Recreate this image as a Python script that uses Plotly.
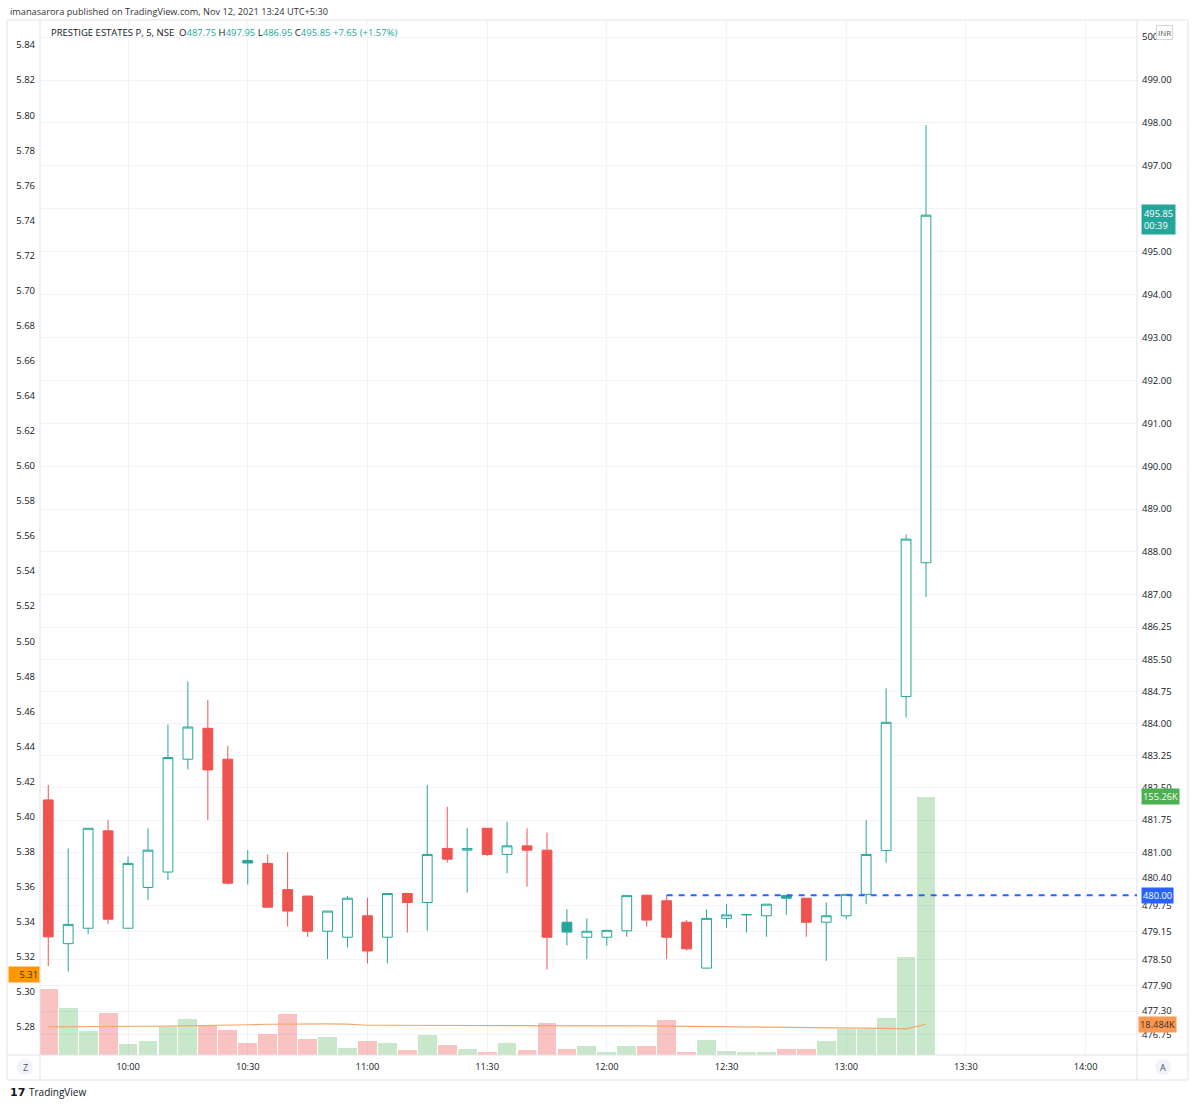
import plotly.graph_objects as go

DAY = "2021-11-12 "
times = ["09:40", "09:45", "09:50", "09:55", "10:00", "10:05", "10:10", "10:15", "10:20", "10:25",
         "10:30", "10:35", "10:40", "10:45", "10:50", "10:55", "11:00", "11:05", "11:10", "11:15",
         "11:20", "11:25", "11:30", "11:35", "11:40", "11:45", "11:50", "11:55", "12:00", "12:05",
         "12:10", "12:15", "12:20", "12:25", "12:30", "12:35", "12:40", "12:45", "12:50", "12:55",
         "13:00", "13:05", "13:10", "13:15", "13:20"]

opens = [482.22, 478.87, 479.23, 481.50, 479.23, 480.18, 480.54, 483.17, 483.89, 483.17,
         480.81, 480.74, 480.13, 479.98, 479.16, 479.02, 479.52, 479.02, 480.04, 479.83,
         481.09, 481.05, 481.56, 480.95, 481.15, 481.05, 479.37, 479.02, 479.02, 479.17,
         480.00, 479.87, 479.37, 478.30, 479.46, 479.54, 479.52, 479.99, 479.93, 479.37,
         479.52, 480.02, 481.04, 484.63, 487.75]
highs = [482.57, 481.09, 481.56, 481.75, 480.90, 481.56, 483.98, 484.98, 484.55, 483.48,
         481.05, 480.95, 481.00, 479.98, 479.63, 479.98, 479.94, 480.04, 480.04, 482.57,
         482.06, 481.56, 481.56, 481.71, 481.56, 481.46, 479.67, 479.46, 479.18, 479.99,
         480.00, 480.00, 479.42, 479.67, 479.79, 479.55, 479.79, 480.00, 479.93, 479.83,
         480.02, 481.75, 484.82, 488.41, 497.95]
lows = [478.35, 478.22, 479.09, 479.33, 479.23, 479.89, 480.35, 482.93, 481.75, 480.25,
        480.25, 479.72, 479.27, 479.03, 478.51, 478.78, 478.41, 478.41, 479.13, 479.17,
        480.76, 480.06, 480.91, 480.51, 480.20, 478.27, 478.83, 478.51, 478.82, 479.03,
        479.27, 478.51, 478.71, 478.30, 479.24, 479.13, 479.03, 479.54, 479.03, 478.47,
        479.44, 479.79, 480.76, 484.14, 486.95]
closes = [479.03, 479.32, 481.56, 479.44, 480.74, 481.05, 483.21, 483.92, 482.92, 480.28,
          480.75, 479.72, 479.63, 479.16, 479.63, 479.93, 478.70, 480.04, 479.83, 480.95,
          480.84, 481.09, 480.95, 481.15, 481.05, 479.02, 479.14, 479.16, 479.18, 479.99,
          479.42, 479.02, 478.75, 479.46, 479.54, 479.55, 479.79, 479.93, 479.37, 479.52,
          480.02, 480.95, 484.03, 488.30, 495.85]
volume_k = [39.7, 28.3, 14.4, 25.5, 6.6, 8.6, 17.0, 21.7, 17.9, 14.9,
            7.0, 12.6, 24.7, 9.6, 10.7, 4.0, 8.4, 7.2, 3.0, 12.0,
            5.8, 3.4, 2.0, 7.2, 3.0, 19.3, 3.8, 5.4, 2.0, 5.4,
            5.4, 20.9, 2.0, 9.0, 2.4, 2.0, 2.0, 3.6, 3.6, 8.2,
            15.5, 15.5, 22.3, 59.0, 155.26]
volume_ma_k = [16.9, 16.9, 17.0, 17.1, 17.2, 17.3, 17.4, 17.5, 17.6, 17.8,
               18.2, 18.5, 18.7, 18.7, 18.7, 18.6, 17.9, 17.9, 17.9, 17.9,
               17.8, 17.8, 17.8, 17.8, 17.8, 17.8, 17.7, 17.7, 17.6, 17.6,
               17.5, 17.4, 17.3, 17.1, 17.0, 16.9, 16.8, 16.7, 16.6, 16.5,
               16.4, 16.3, 16.0, 15.7, 18.484]

price_ticks = [476.75, 477.30, 477.90, 478.50, 479.15, 479.75, 480.40, 481.00, 481.75, 482.50,
               483.25, 484.00, 484.75, 485.50, 486.25, 487.00, 488.00, 489.00, 490.00, 491.00,
               492.00, 493.00, 494.00, 495.00, 496.00, 497.00, 498.00, 499.00, 500.00]
time_ticks = ["10:00", "10:30", "11:00", "11:30", "12:00", "12:30", "13:00", "13:30", "14:00"]
line_level = 480.00
left_last = 5.31

TEAL = "#26a69a"
RED = "#ef5350"
GRID = "#f0f3fa"
BORDER = "#e0e3eb"
TXT = "#131722"
FONT = "Open Sans, Liberation Sans, sans-serif"

x = [DAY + t + ":00" for t in times]
n = len(x)

idx_hollow, idx_red, idx_teal = [], [], []
for i in range(n):
    if closes[i] >= opens[i]:
        idx_hollow.append(i)
    elif i > 0 and closes[i] > closes[i - 1]:
        idx_teal.append(i)
    else:
        idx_red.append(i)


def sub(lst, idx):
    return [lst[i] for i in idx]


fig = go.Figure()

# volume (bottom layer)
vcol = ["rgba(76,175,80,0.3)" if closes[i] >= opens[i] else "rgba(239,83,80,0.35)" for i in range(n)]
fig.add_trace(go.Bar(x=x, y=volume_k, marker=dict(color=vcol, line=dict(width=0)),
                     width=283000, yaxis="y", hoverinfo="skip"))
fig.add_trace(go.Scatter(x=x, y=volume_ma_k, mode="lines", yaxis="y",
                         line=dict(color="#f7a66b", width=1.2), hoverinfo="skip"))


def candle(idx, fill, color):
    sty = dict(line=dict(color=color, width=1), fillcolor=fill)
    return go.Candlestick(x=sub(x, idx), open=sub(opens, idx), high=sub(highs, idx),
                          low=sub(lows, idx), close=sub(closes, idx), yaxis="y2",
                          increasing=sty, decreasing=sty, whiskerwidth=0, hoverinfo="skip")


fig.add_trace(candle(idx_hollow, "white", TEAL))
fig.add_trace(candle(idx_red, RED, RED))
fig.add_trace(candle(idx_teal, TEAL, TEAL))

# dummy for left axis
fig.add_trace(go.Scatter(x=[x[0]], y=[left_last], mode="markers", marker=dict(opacity=0),
                         yaxis="y3", hoverinfo="skip"))

L, R, T, B = 40, 1137, 20, 1055
W, H = 1200, 1106


def PX(px):
    return (px - L) / (R - L)


def PY(py):
    return (B - py) / (B - T)


xr = ["2021-11-12 09:37:56", "2021-11-12 14:12:53"]

fig.update_layout(
    width=W, height=H, margin=dict(l=L, r=W - R, t=T, b=H - B),
    paper_bgcolor="white", plot_bgcolor="white", showlegend=False,
    font=dict(family=FONT, size=9, color=TXT),
    bargap=0,
    xaxis=dict(type="date", range=xr, tickvals=[DAY + t + ":00" for t in time_ticks],
               ticktext=time_ticks, showgrid=True, gridcolor=GRID, gridwidth=1,
               rangeslider=dict(visible=False), zeroline=False, showline=False,
               ticks="", ticklabelstandoff=5, tickfont=dict(size=9.3, color=TXT)),
    yaxis=dict(range=[0, 622.8], visible=False, showgrid=False),
    yaxis2=dict(overlaying="y", side="right", range=[476.275, 500.40],
                tickvals=price_ticks, ticktext=["%.2f" % v for v in price_ticks],
                showgrid=True, gridcolor=GRID, zeroline=False, showline=False,
                ticks="", ticklabelstandoff=4, tickfont=dict(size=9.5, color=TXT)),
    yaxis3=dict(overlaying="y", side="left", range=[5.2640, 5.8543], tick0=5.28, dtick=0.02,
                tickformat=".2f", showgrid=False, zeroline=False, showline=False,
                ticks="", ticklabelstandoff=4, tickfont=dict(size=9.5, color=TXT)),
)

shapes = []
# frame
shapes.append(dict(type="rect", xref="paper", yref="paper", x0=PX(7), x1=PX(1188), y0=PY(1080), y1=PY(20),
                   line=dict(color=BORDER, width=1), layer="above"))
shapes.append(dict(type="line", xref="paper", yref="paper", x0=0, x1=0, y0=PY(1080), y1=1,
                   line=dict(color=BORDER, width=1)))
shapes.append(dict(type="line", xref="paper", yref="paper", x0=1, x1=1, y0=PY(1080), y1=1,
                   line=dict(color=BORDER, width=1)))
shapes.append(dict(type="line", xref="paper", yref="paper", x0=PX(7), x1=PX(1188), y0=0, y1=0,
                   line=dict(color=BORDER, width=1)))
# dashed horizontal line
shapes.append(dict(type="line", xref="x", yref="y2", x0=x[31], x1=xr[1], y0=line_level, y1=line_level,
                   line=dict(color="#2962ff", width=2, dash="6px,6px")))
# Z / A buttons
for cx in (25, 1163):
    shapes.append(dict(type="circle", xref="paper", yref="paper", x0=PX(cx - 8), x1=PX(cx + 8),
                       y0=PY(1075), y1=PY(1059), fillcolor="#f0f3fa", line=dict(width=0)))
fig.update_layout(shapes=shapes)

ann = []
ann.append(dict(xref="paper", yref="paper", x=PX(8), y=PY(11), xanchor="left", yanchor="middle",
                text="imanasarora published on TradingView.com, Nov 12, 2021 13:24 UTC+5:30",
                showarrow=False, font=dict(size=9.2, color="#333")))


def tc(v):
    return "<span style='color:%s'>%s</span>" % (TEAL, v)


legend = ("PRESTIGE ESTATES P, 5, NSE  O" + tc("%.2f" % opens[-1]) + " H" + tc("%.2f" % highs[-1]) +
          " L" + tc("%.2f" % lows[-1]) + " C" + tc("%.2f" % closes[-1]) + " " +
          tc("+7.65 (+1.57%)"))
ann.append(dict(xref="paper", yref="paper", x=PX(49), y=PY(33), xanchor="left", yanchor="middle",
                text=legend, showarrow=False, font=dict(size=9.5, color=TXT)))
# INR box
ann.append(dict(xref="paper", yref="paper", x=PX(1164), y=PY(33), xanchor="center", yanchor="middle",
                text="INR", showarrow=False, font=dict(size=8, color="#555"), bgcolor="white",
                bordercolor="#d1d4dc", borderwidth=1, borderpad=1))
# price labels
ann.append(dict(xref="paper", yref="y2", x=PX(1141), y=closes[-1], yshift=-4, xanchor="left",
                yanchor="middle", text="%.2f<br>00:39" % closes[-1], showarrow=False, align="left",
                font=dict(size=9.3, color="white"), bgcolor=TEAL, borderpad=2))
ann.append(dict(xref="paper", yref="y2", x=PX(1141), y=line_level, xanchor="left", yanchor="middle",
                text="%.2f" % line_level, showarrow=False, font=dict(size=9.3, color="white"),
                bgcolor="#2962ff", borderpad=1))
ann.append(dict(xref="paper", yref="y", x=PX(1141), y=volume_k[-1], xanchor="left", yanchor="middle",
                text="%.2fK" % volume_k[-1], showarrow=False, font=dict(size=9.3, color="white"),
                bgcolor="#4caf50", borderpad=1))
ann.append(dict(xref="paper", yref="y", x=PX(1138), y=volume_ma_k[-1], xanchor="left", yanchor="middle",
                text="%.3fK" % volume_ma_k[-1], showarrow=False, font=dict(size=9.3, color="#333"),
                bgcolor="#ff9850", borderpad=1))
ann.append(dict(xref="paper", yref="y3", x=PX(40), y=left_last, xanchor="right", yanchor="middle",
                text="%.2f" % left_last, showarrow=False, font=dict(size=9.3, color="#333"),
                bgcolor="#ff9800", borderpad=1, width=28, align="right"))
# Z / A letters
ann.append(dict(xref="paper", yref="paper", x=PX(25), y=PY(1067), xanchor="center", yanchor="middle",
                text="Z", showarrow=False, font=dict(size=9, color="#555")))
ann.append(dict(xref="paper", yref="paper", x=PX(1163), y=PY(1067), xanchor="center", yanchor="middle",
                text="A", showarrow=False, font=dict(size=9, color="#555")))
# TradingView logo
ann.append(dict(xref="paper", yref="paper", x=PX(8), y=PY(1092), xanchor="left", yanchor="middle",
                text="<b>17</b>", showarrow=False, font=dict(size=11, color=TXT, family="DejaVu Sans")))
ann.append(dict(xref="paper", yref="paper", x=PX(27), y=PY(1092), xanchor="left", yanchor="middle",
                text="TradingView", showarrow=False, font=dict(size=10, color=TXT)))
fig.update_layout(annotations=ann)

fig.write_html("out.html", post_script="document.body.style.margin='0px';",
               config={"displayModeBar": False})
